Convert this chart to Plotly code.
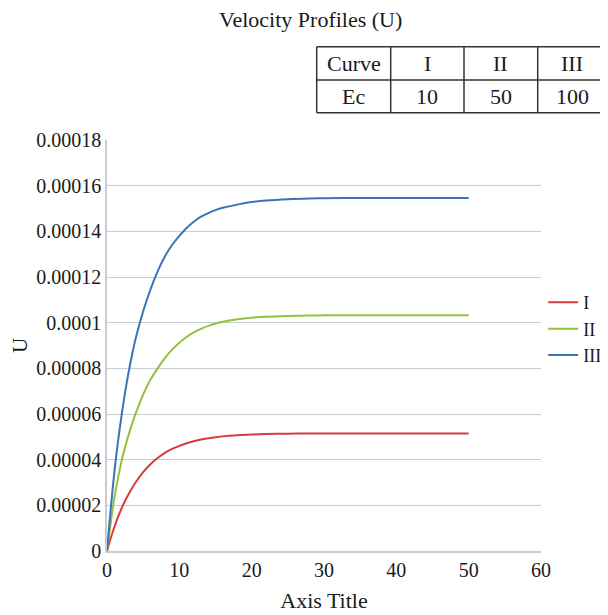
import plotly.graph_objects as go

# ---- data ----
x_vals = [0, 0.5, 1, 1.5, 2, 2.5, 3, 3.5, 4, 5, 6, 7, 8, 9, 10, 11, 12, 13, 14, 15, 16,
          18, 20, 22, 25, 28, 30, 35, 40, 45, 50]

# values in units of 1e-5
u_I_e5 = [0, 0.55, 1.03, 1.47, 1.86, 2.20, 2.50, 2.77, 3.02, 3.45, 3.80, 4.07, 4.30, 4.47,
          4.60, 4.72, 4.81, 4.88, 4.94, 4.98, 5.02, 5.07, 5.10, 5.12, 5.14, 5.15, 5.15,
          5.15, 5.15, 5.15, 5.15]
u_II_e5 = [0, 1.20, 2.30, 3.15, 3.92, 4.55, 5.10, 5.60, 6.05, 6.85, 7.50, 8.00, 8.45, 8.82,
           9.12, 9.37, 9.57, 9.73, 9.86, 9.96, 10.04, 10.15, 10.22, 10.26, 10.29, 10.31,
           10.32, 10.32, 10.32, 10.32, 10.32]
u_III_e5 = [0, 1.80, 3.40, 4.75, 5.90, 6.95, 7.85, 8.65, 9.35, 10.50, 11.45, 12.25, 12.90,
            13.40, 13.80, 14.15, 14.42, 14.64, 14.80, 14.93, 15.03, 15.17, 15.28, 15.35,
            15.41, 15.44, 15.45, 15.46, 15.46, 15.46, 15.46]

series_names = ["I", "II", "III"]
series_values = [[v * 1e-5 for v in s] for s in (u_I_e5, u_II_e5, u_III_e5)]
series_colors = ["#d63c3c", "#93c13e", "#3b74b6"]

ec_values = ["10", "50", "100"]

y_tickvals = [0, 0.00002, 0.00004, 0.00006, 0.00008, 0.0001, 0.00012, 0.00014, 0.00016, 0.00018]
y_ticktext = ["0", "0.00002", "0.00004", "0.00006", "0.00008", "0.0001",
              "0.00012", "0.00014", "0.00016", "0.00018"]
x_tickvals = [0, 10, 20, 30, 40, 50, 60]

FONT = "Liberation Serif"
TXT = "#1a1a1a"
GRID = "#c9ccd5"

# the page body adds an 8px offset; compensate in the figure size / margins
PAGE_OFF = 8
FIG_W, FIG_H = 608 - PAGE_OFF, 615 - PAGE_OFF
PLOT_L, PLOT_T, PLOT_W, PLOT_H = 107, 140, 434, 411   # in page pixels

fig = go.Figure()
for name, vals, col in zip(series_names, series_values, series_colors):
    fig.add_trace(go.Scatter(
        x=x_vals, y=vals, mode="lines", name=name,
        line=dict(color=col, width=2, shape="spline", smoothing=0.8),
    ))

ml = PLOT_L - PAGE_OFF
mt = PLOT_T - PAGE_OFF
fig.update_layout(
    width=FIG_W, height=FIG_H,
    margin=dict(l=ml, r=FIG_W - ml - PLOT_W, t=mt, b=FIG_H - mt - PLOT_H, autoexpand=False),
    paper_bgcolor="white", plot_bgcolor="white",
    font=dict(family=FONT, color=TXT, size=20),
    showlegend=True,
    legend=dict(x=1.005, y=0.54, xanchor="left", yanchor="middle",
                font=dict(family=FONT, size=18, color=TXT),
                bgcolor="rgba(0,0,0,0)", itemwidth=30, tracegroupgap=0),
    xaxis=dict(range=[0, 60], tickvals=x_tickvals, showgrid=False, zeroline=False,
               showline=True, linecolor=GRID, linewidth=1.5, ticks="", automargin=False,
               tickfont=dict(family=FONT, size=20, color=TXT),
               title=dict(text="Axis Title", font=dict(family=FONT, size=22, color=TXT),
                          standoff=13)),
    yaxis=dict(range=[0, 0.00018], tickvals=y_tickvals, ticktext=y_ticktext,
               showgrid=True, gridcolor=GRID, gridwidth=1.3, zeroline=False,
               showline=True, linecolor=GRID, linewidth=1.5, ticks="", automargin=False,
               tickfont=dict(family=FONT, size=20, color=TXT),
               title=dict(text="U", font=dict(family=FONT, size=21, color=TXT), standoff=9)),
)

def px_x(p):
    return (p - PLOT_L) / PLOT_W
def px_y(p):
    return (PLOT_T + PLOT_H - p) / PLOT_H

# title
fig.add_annotation(text="Velocity Profiles (U)", xref="paper", yref="paper",
                   x=px_x(310), y=px_y(20), xanchor="center", yanchor="middle",
                   showarrow=False, font=dict(family=FONT, size=22, color=TXT))

# table drawn with shapes and annotations
col_px = [316.7, 390.7, 464.0, 537.7, 607.0]
row_px = [46.7, 80.0, 112.7]

LINEC = "#333333"
for cx in col_px:
    fig.add_shape(type="line", xref="paper", yref="paper",
                  x0=px_x(cx), x1=px_x(cx), y0=px_y(row_px[0]), y1=px_y(row_px[-1]),
                  line=dict(color=LINEC, width=1.5))
for ry in row_px:
    fig.add_shape(type="line", xref="paper", yref="paper",
                  x0=px_x(col_px[0]), x1=px_x(col_px[-1]), y0=px_y(ry), y1=px_y(ry),
                  line=dict(color=LINEC, width=1.5))

row1 = ["Curve"] + series_names
row2 = ["Ec"] + ec_values
for r, row in enumerate([row1, row2]):
    yc = (row_px[r] + row_px[r + 1]) / 2
    for c, txt in enumerate(row):
        xc = (col_px[c] + col_px[c + 1]) / 2
        fig.add_annotation(text=txt, xref="paper", yref="paper", x=px_x(xc), y=px_y(yc),
                           xanchor="center", yanchor="middle", showarrow=False,
                           font=dict(family=FONT, size=22, color=TXT))

fig.write_html("out.html")
